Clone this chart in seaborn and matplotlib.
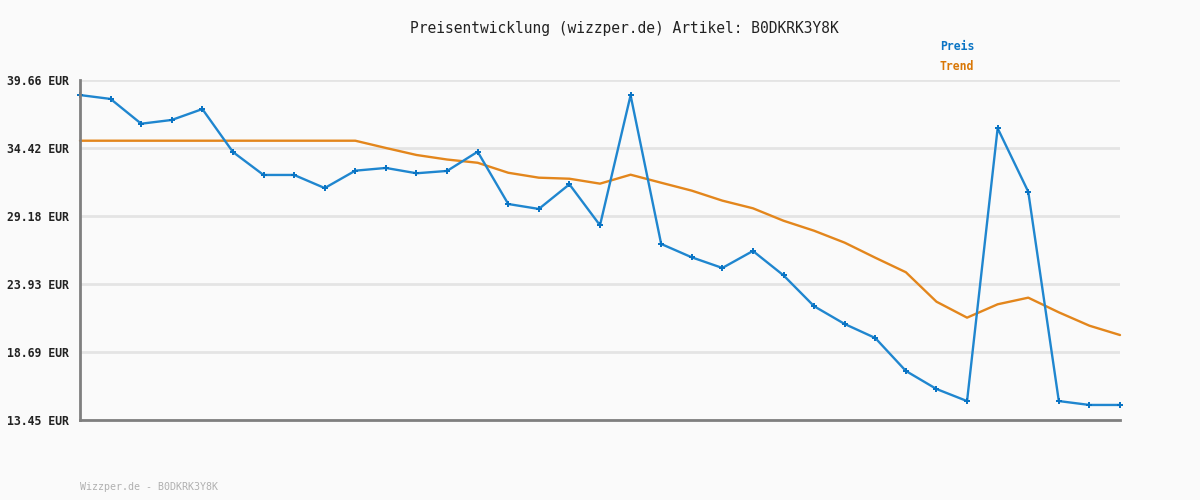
import numpy as np
import pandas as pd
import seaborn as sns
import matplotlib.pyplot as plt

# Werte
preis = [38.50, 38.20, 36.29, 36.58, 37.42, 34.11, 32.34, 32.34, 31.33, 32.67,
         32.88, 32.47, 32.65, 34.13, 30.10, 29.72, 31.62, 28.46, 38.48, 27.02,
         25.99, 25.17, 26.48, 24.60, 22.22, 20.85, 19.77, 17.23, 15.84, 14.91,
         35.94, 31.05, 14.91, 14.61, 14.61]
trend = [34.98, 34.98, 34.98, 34.98, 34.98, 34.98, 34.98, 34.98, 34.98, 34.98,
         34.42, 33.88, 33.53, 33.28, 32.51, 32.13, 32.05, 31.67, 32.36, 31.74,
         31.13, 30.36, 29.77, 28.81, 28.04, 27.12, 25.96, 24.84, 22.57, 21.34,
         22.37, 22.88, 21.75, 20.72, 20.00]
ytick_vals = [13.45, 18.69, 23.93, 29.18, 34.42, 39.66]
ytick_labels = ["13.45 EUR", "18.69 EUR", "23.93 EUR", "29.18 EUR", "34.42 EUR", "39.66 EUR"]
artikel = "B0DKRK3Y8K"

df = pd.DataFrame({"idx": np.arange(len(preis)), "Preis": preis, "Trend": trend})

sns.set_theme(style="white")
plt.rcParams['font.family'] = ['DejaVu Sans Mono', 'DejaVu Sans']

fig = plt.figure(figsize=(12, 5), dpi=100, facecolor="#fafafa")
ax = fig.add_axes([80/1200, 80/500, 1040/1200, 340/500])
ax.set_facecolor("#fafafa")

blue = "#1f86cf"
orange = "#e3861c"

sns.lineplot(data=df, x="idx", y="Trend", ax=ax, color=orange, linewidth=1.7, clip_on=False, zorder=3)
sns.lineplot(data=df, x="idx", y="Preis", ax=ax, color=blue, linewidth=1.7,
             marker="P", markersize=4, markeredgewidth=0, markerfacecolor="#0a74c4",
             clip_on=False, zorder=4)

ax.set_xlim(0, len(preis) - 1)
ax.set_ylim(ytick_vals[0], ytick_vals[-1])
ax.set_xticks([])
ax.set_yticks(ytick_vals)
ax.set_yticklabels(ytick_labels, fontsize=8.3, fontweight="bold", color="#222222")
ax.tick_params(axis="y", length=0, pad=8)
ax.set_xlabel("")
ax.set_ylabel("")
ax.yaxis.grid(True, color="#e4e4e4", linewidth=2)
ax.set_axisbelow(True)

for s in ["top", "right"]:
    ax.spines[s].set_visible(False)
for s in ["left", "bottom"]:
    ax.spines[s].set_color("#7f7f7f")
    ax.spines[s].set_linewidth(2)
    ax.spines[s].set_zorder(5)

fig.text(624/1200, 1 - 28/500, f"Preisentwicklung (wizzper.de) Artikel: {artikel}",
         ha="center", va="center", fontsize=10.5, color="#222222")
fig.text(940/1200, 1 - 47/500, "Preis", ha="left", va="center",
         fontsize=8.3, fontweight="bold", color="#0a74c4")
fig.text(940/1200, 1 - 67/500, "Trend", ha="left", va="center",
         fontsize=8.3, fontweight="bold", color="#d97706")
fig.text(80/1200, 1 - 487/500, f"Wizzper.de - {artikel}", ha="left", va="center",
         fontsize=7.2, color="#b0b0b0")

fig.savefig("out.png", dpi=100, facecolor="#fafafa")
